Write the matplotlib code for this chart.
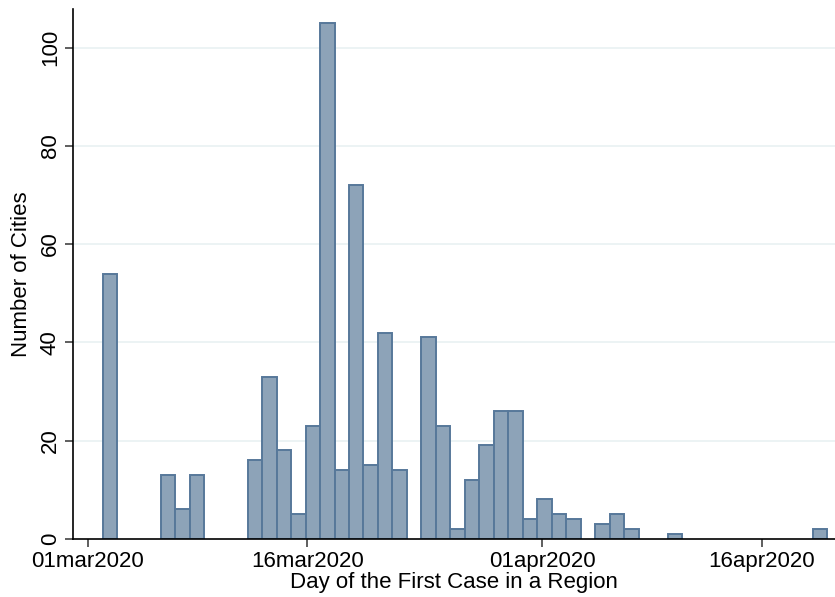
import matplotlib.pyplot as plt

# counts per bin (bin 0 = 02mar2020)
counts = [
    54, 0, 0, 0, 13, 6, 13, 0, 0, 0,
    16, 33, 18, 5, 23, 105, 14, 72, 15, 42,
    14, 0, 41, 23, 2, 12, 19, 26, 26, 4,
    8, 5, 4, 0, 3, 5, 2, 0, 0, 1,
    0, 0, 0, 0, 0, 0, 0, 0, 0, 2
]
tick_days = [0, 15, 31, 46]  # days since 01mar2020
tick_labels = ['01mar2020', '16mar2020', '01apr2020', '16apr2020']
y_ticks = [0, 20, 40, 60, 80, 100]

bin_start = 1.02
bin_width = 0.989
lefts = [bin_start + k * bin_width for k in range(len(counts))]

# empty bins are not drawn (otherwise their outline shows on the axis)
bar_x = [x for x, c in zip(lefts, counts) if c > 0]
bar_h = [c for c in counts if c > 0]

plt.rcParams['font.family'] = ['Liberation Sans', 'DejaVu Sans']

fig = plt.figure(figsize=(8.35, 5.97), dpi=100)
ax = fig.add_axes([0.088, 0.0975, 0.912, 0.8869])

ax.bar(bar_x, bar_h, width=bin_width, align='edge',
       color='#8da3b8', edgecolor='#57789a', linewidth=1.4, zorder=3)

ax.set_xlim(-0.97, 51.0)
ax.set_ylim(0, 107.8)

ax.set_yticks(y_ticks)
ax.set_yticklabels([str(v) for v in y_ticks], rotation=90, va='center',
                   fontsize=16)
ax.set_xticks(tick_days)
ax.set_xticklabels(tick_labels, fontsize=16)

for v in y_ticks[1:]:
    ax.axhline(v, color='#eaf2f3', linewidth=1.3, zorder=1)

ax.spines['top'].set_visible(False)
ax.spines['right'].set_visible(False)
ax.spines['left'].set_linewidth(1.2)
ax.spines['bottom'].set_linewidth(1.2)
ax.spines['bottom'].set_zorder(4)
ax.tick_params(axis='both', length=6, width=1.1, color='#333333', pad=3)

ax.set_xlabel('Day of the First Case in a Region', fontsize=16, labelpad=0)
ax.set_ylabel('Number of Cities', fontsize=16, labelpad=6)

fig.savefig('out.png', dpi=100)
